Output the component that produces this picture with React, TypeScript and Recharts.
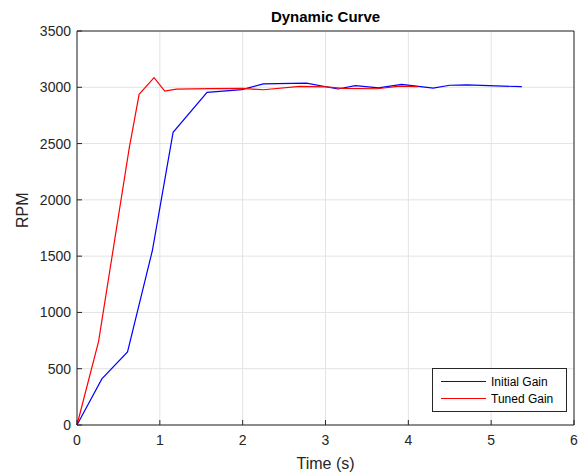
import React from "react";
import {
  LineChart,
  Line,
  XAxis,
  YAxis,
  CartesianGrid,
} from "recharts";

const xTicks = [0, 1, 2, 3, 4, 5, 6];
const yTicks = [0, 500, 1000, 1500, 2000, 2500, 3000, 3500];

const initialTime = [0, 0.3, 0.61, 0.91, 1.16, 1.57, 1.99, 2.25, 2.77, 3.15, 3.36, 3.64, 3.92, 4.3, 4.5, 4.71, 5.37];
const initialRpm = [0, 410, 650, 1550, 2600, 2955, 2980, 3030, 3037, 2985, 3015, 2995, 3025, 2993, 3018, 3022, 3005];

const tunedTime = [0, 0.26, 0.63, 0.75, 0.93, 1.06, 1.2, 1.6, 2.0, 2.25, 2.69, 3.01, 3.21, 3.62, 3.9, 4.12];
const tunedRpm = [0, 740, 2457, 2937, 3085, 2966, 2984, 2988, 2990, 2978, 3008, 3004, 2990, 2987, 3010, 3005];

const initialData = initialTime.map((t, i) => ({ t, rpm: initialRpm[i] }));
const tunedData = tunedTime.map((t, i) => ({ t, rpm: tunedRpm[i] }));

const axisColor = "#262626";
const font = "'Liberation Sans', Arial, Helvetica, sans-serif";

const series = [
  { name: "Initial Gain", color: "#0000ff", data: initialData },
  { name: "Tuned Gain", color: "#ff0000", data: tunedData },
];

function LegendBox() {
  return (
    <div
      style={{
        position: "absolute",
        left: 432,
        top: 368,
        width: 135,
        height: 44,
        border: `1px solid ${axisColor}`,
        background: "#fff",
        fontFamily: font,
        fontSize: 12,
        color: "#000",
        boxSizing: "border-box",
        paddingTop: 4,
      }}
    >
      {series.map((r) => (
        <div key={r.name} style={{ display: "flex", alignItems: "center", height: 17 }}>
          <div style={{ width: 45, height: 1, background: r.color, marginLeft: 8, marginRight: 5 }} />
          <span>{r.name}</span>
        </div>
      ))}
    </div>
  );
}

export default function App() {
  return (
    <div style={{ position: "absolute", left: 0, top: 0, width: 582, height: 475, background: "#fff" }}>
      <div
        style={{
          position: "absolute",
          left: 77,
          width: 497,
          top: 8,
          textAlign: "center",
          fontFamily: font,
          fontWeight: "bold",
          fontSize: 15,
          color: "#000",
        }}
      >
        Dynamic Curve
      </div>
      <LineChart width={582} height={475} margin={{ top: 0, right: 0, bottom: 0, left: 0 }}>
        <CartesianGrid xAxisId="main" yAxisId="main" stroke="#e3e3e3" horizontal vertical />
        <XAxis
          xAxisId="main"
          type="number"
          dataKey="t"
          domain={[0, 6]}
          ticks={xTicks}
          allowDuplicatedCategory={false}
          height={50}
          stroke={axisColor}
          tickSize={-5}
          tickMargin={15}
          tick={{ fill: axisColor, fontSize: 14, fontFamily: font }}
          label={{ value: "Time (s)", position: "insideBottom", offset: 6, fill: axisColor, fontSize: 16, fontFamily: font }}
        />
        <XAxis
          xAxisId="top"
          orientation="top"
          type="number"
          domain={[0, 6]}
          ticks={xTicks}
          height={31}
          stroke={axisColor}
          tickSize={-5}
          tick={false}
        />
        <YAxis
          yAxisId="main"
          type="number"
          domain={[0, 3500]}
          ticks={yTicks}
          width={77}
          stroke={axisColor}
          tickSize={-5}
          tickMargin={11}
          tick={{ fill: axisColor, fontSize: 14, fontFamily: font }}
          label={{ value: "RPM", angle: -90, position: "insideLeft", offset: 22, fill: axisColor, fontSize: 16, fontFamily: font }}
        />
        <YAxis
          yAxisId="right"
          orientation="right"
          type="number"
          domain={[0, 3500]}
          ticks={yTicks}
          width={8}
          stroke={axisColor}
          tickSize={-5}
          tick={false}
        />
        {series.map((s) => (
          <Line
            key={s.name}
            xAxisId="main"
            yAxisId="main"
            data={s.data}
            dataKey="rpm"
            name={s.name}
            stroke={s.color}
            strokeWidth={1.2}
            dot={false}
            isAnimationActive={false}
          />
        ))}
      </LineChart>
      <LegendBox />
    </div>
  );
}
